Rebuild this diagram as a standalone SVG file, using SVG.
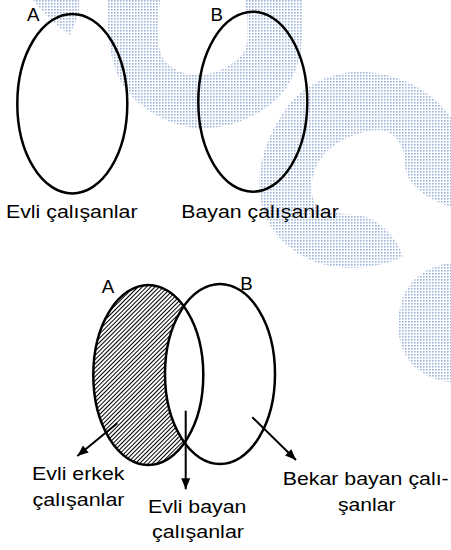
<svg xmlns="http://www.w3.org/2000/svg" width="451" height="550" viewBox="0 0 451 550">
  <style>
    .t { font-family: "Liberation Sans", Arial, sans-serif; font-size: 18.7px; fill: #000; }
    .ring { fill: none; stroke: #000; stroke-width: 2.5; }
    .conn { stroke: #000; stroke-width: 2; fill: none; }
    .wm { fill: url(#dots); }
  </style>
  <defs>
    <pattern id="dots" width="3" height="3" patternUnits="userSpaceOnUse">
      <rect width="1.6" height="1.6" fill="#9cb3d9"/>
    </pattern>
    <pattern id="hatch" width="3" height="3" patternUnits="userSpaceOnUse" patternTransform="rotate(45)">
      <line x1="0.5" y1="0" x2="0.5" y2="3" stroke="#000" stroke-width="1"/>
    </pattern>
    <mask id="aMinusB" maskUnits="userSpaceOnUse" x="0" y="0" width="451" height="550">
      <ellipse cx="148.3" cy="375" rx="55" ry="90" fill="#fff"/>
      <ellipse cx="220" cy="374" rx="55" ry="90" fill="#000"/>
    </mask>
    <marker id="arrow" markerUnits="userSpaceOnUse" markerWidth="12" markerHeight="10" refX="11" refY="4.5" orient="auto">
      <path d="M0,0 L11,4.5 L0,9 Z" fill="#000"/>
    </marker>
  </defs>

  <g id="watermark">
    <path class="wm" d="M33,0 L79,0 L79,13 L70,35 Q50,22 33,0 Z"/>
    <path class="wm" d="M108,0 L160,0 C157,25 156,45 163,58 C172,72 190,77 207,74 C225,71 240,60 246,48 C249,35 247,15 245,0 L302,0 L302,40 C300,65 292,85 275,101 C255,118 225,131 195,128 C165,124 140,108 125,88 C112,70 106,40 108,0 Z"/>
    <path class="wm" d="M451,117 C435,95 405,74 365,72 C330,70 300,88 285,110 C268,135 256,165 260,195 C263,225 285,250 315,262 C345,272 380,268 403,257 C398,240 385,225 367,217 C350,213 330,215 318,207 C308,195 310,175 320,160 C330,145 350,133 377,130 C395,130 405,145 405,165 C405,180 420,197 451,207 Z"/>
    <path class="wm" d="M451,263 C430,265 410,278 403,297 C395,320 397,345 410,362 C420,375 440,382 451,382 Z"/>
  </g>

  <g id="setA-top">
    <ellipse class="ring" cx="72.3" cy="103.7" rx="55" ry="89.7"/>
    <text class="t" x="27" y="20.6">A</text>
    <text class="t" x="6" y="218" textLength="131.5" lengthAdjust="spacingAndGlyphs">Evli çalışanlar</text>
  </g>

  <g id="setB-top">
    <ellipse class="ring" cx="252.8" cy="101.7" rx="54.5" ry="90"/>
    <text class="t" x="210.5" y="21">B</text>
    <text class="t" x="181.3" y="217.5" textLength="157.5" lengthAdjust="spacingAndGlyphs">Bayan çalışanlar</text>
  </g>

  <g id="venn-bottom">
    <rect x="0" y="0" width="451" height="550" fill="url(#hatch)" mask="url(#aMinusB)"/>
    <g id="setA-bottom">
      <ellipse class="ring" cx="148.3" cy="375" rx="55" ry="90"/>
      <text class="t" x="101.7" y="293.3">A</text>
    </g>
    <g id="setB-bottom">
      <ellipse class="ring" cx="220" cy="374" rx="55" ry="90"/>
      <text class="t" x="240.3" y="290">B</text>
    </g>
  </g>

  <g id="connectors">
    <line class="conn" x1="117.3" y1="423.3" x2="77.3" y2="456" marker-end="url(#arrow)"/>
    <line class="conn" x1="185.7" y1="410.7" x2="185.7" y2="489.3" marker-end="url(#arrow)"/>
    <line class="conn" x1="252.3" y1="417.3" x2="296" y2="460" marker-end="url(#arrow)"/>
  </g>

  <g id="label-evli-erkek">
    <text class="t" x="32" y="479.5" textLength="92.5" lengthAdjust="spacingAndGlyphs">Evli erkek</text>
    <text class="t" x="32.5" y="505.5" textLength="92" lengthAdjust="spacingAndGlyphs">çalışanlar</text>
  </g>
  <g id="label-evli-bayan">
    <text class="t" x="148" y="512.5" textLength="98.5" lengthAdjust="spacingAndGlyphs">Evli bayan</text>
    <text class="t" x="152" y="538.2" textLength="92" lengthAdjust="spacingAndGlyphs">çalışanlar</text>
  </g>
  <g id="label-bekar-bayan">
    <text class="t" x="282.7" y="485" textLength="166" lengthAdjust="spacingAndGlyphs">Bekar bayan çalı-</text>
    <text class="t" x="338" y="510.6" textLength="57.5" lengthAdjust="spacingAndGlyphs">şanlar</text>
  </g>
</svg>
